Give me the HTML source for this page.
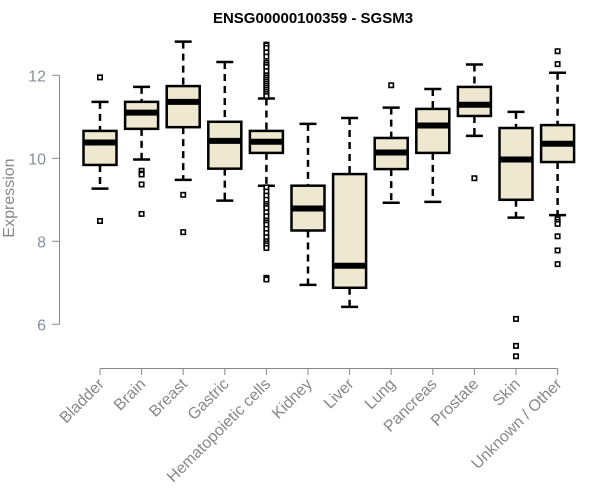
<!DOCTYPE html>
<html><head><meta charset="utf-8"><style>body{margin:0;background:#fff}svg{display:block}text{font-family:"Liberation Sans",Arial,sans-serif}</style></head>
<body>
<svg id="chart" width="600" height="500">
<text x="313" y="23" text-anchor="middle" font-weight="bold" font-size="15">ENSG00000100359 - SGSM3</text>
<text transform="translate(14,198) rotate(-90)" text-anchor="middle" font-size="16" fill="#888">Expression</text>
<g id="yaxis"></g>
<g id="xaxis"></g>
<g id="boxes"></g>
</svg>
<script>
const categories=["Bladder","Brain","Breast","Gastric","Hematopoietic cells","Kidney","Liver","Lung","Pancreas","Prostate","Skin","Unknown / Other"];
const lowerWhisker=[9.27,9.97,9.48,8.98,9.34,6.95,6.42,8.93,8.95,10.54,8.57,8.63];
const q1=[9.84,10.71,10.75,9.75,10.13,8.26,6.88,9.74,10.13,11.02,9.0,9.91];
const medians=[10.38,11.10,11.36,10.42,10.40,8.79,7.41,10.14,10.79,11.29,9.97,10.35];
const q3=[10.66,11.36,11.74,10.88,10.66,9.34,9.62,10.49,11.19,11.72,10.73,10.80];
const upperWhisker=[11.36,11.72,12.81,12.32,11.44,10.83,10.97,11.22,11.67,12.26,11.12,12.06];
const outliers=[[11.95,8.49],[9.70,9.63,9.61,9.37,8.66],[9.12,8.22],[],
[12.74,12.72,12.66,12.55,12.45,12.3,12.25,12.2,12.1,12.0,11.95,11.9,11.85,11.8,11.75,11.7,11.65,11.6,11.55,11.5,9.3,9.2,9.1,9.0,8.9,8.85,8.8,8.7,8.6,8.5,8.45,8.4,8.3,8.2,8.1,8.0,7.95,7.9,7.84,7.12,7.08],
[],[],[11.76],[],[9.52],[6.13,5.48,5.23],[12.58,12.27,8.53,8.47,8.42,8.12,7.78,7.45]];
const yTicks=[6,8,10,12];
const NS="http://www.w3.org/2000/svg";
function y(v){return 158.3-(v-10)*41.5;}
function x(i){return 100+i*41.6;}
function mk(p,tag,a){const e=document.createElementNS(NS,tag);for(const k in a)e.setAttribute(k,a[k]);p.appendChild(e);return e;}
const ya=document.getElementById('yaxis'),xa=document.getElementById('xaxis'),bx=document.getElementById('boxes');
let l=mk(ya,'line',{x1:59.5,x2:59.5,y1:y(12),y2:y(6),stroke:'#888'});


yTicks.forEach(t=>{
 const tk=mk(ya,'line',{x1:52,x2:59.5,y1:y(t),y2:y(t),stroke:'#888'});
 
 
 const tx=mk(ya,'text',{x:46,y:y(t)+6,'text-anchor':'end','font-size':16,fill:'#8a8e99'});tx.textContent=t;
 
 
});
l=mk(xa,'line',{x1:x(0),x2:x(categories.length-1),y1:368.5,y2:368.5,stroke:'#888'});


categories.forEach((c,i)=>{
 const tk=mk(xa,'line',{x1:x(i),x2:x(i),y1:368.5,y2:375,stroke:'#888'});
 
 
 const tx=mk(xa,'text',{transform:`translate(${x(i)+5},${385}) rotate(-45)`,'text-anchor':'end','font-size':16,fill:'#888'});tx.textContent=c;
 
 
 const g=mk(bx,'g',{});
 
 
 const cx=x(i),hw=16.5,cap=8.5;
 mk(g,'line',{x1:cx,x2:cx,y1:y(upperWhisker[i]),y2:y(q3[i]),stroke:'#000','stroke-width':2.5,'stroke-dasharray':'7,5'});
 mk(g,'line',{x1:cx,x2:cx,y1:y(q1[i]),y2:y(lowerWhisker[i]),stroke:'#000','stroke-width':2.5,'stroke-dasharray':'7,5'});
 mk(g,'line',{x1:cx-cap,x2:cx+cap,y1:y(upperWhisker[i]),y2:y(upperWhisker[i]),stroke:'#000','stroke-width':2.5});
 mk(g,'line',{x1:cx-cap,x2:cx+cap,y1:y(lowerWhisker[i]),y2:y(lowerWhisker[i]),stroke:'#000','stroke-width':2.5});
 mk(g,'rect',{x:cx-hw,y:y(q3[i]),width:2*hw,height:y(q1[i])-y(q3[i]),fill:'#ede8cf',stroke:'#000','stroke-width':2.5});
 mk(g,'line',{x1:cx-hw,x2:cx+hw,y1:y(medians[i]),y2:y(medians[i]),stroke:'#000','stroke-width':6});
 outliers[i].forEach(o=>{
  const r=mk(g,'rect',{x:cx-2.2,y:y(o)-2.2,width:4.4,height:4.4,fill:'#fff',stroke:'#000','stroke-width':1.6});
  
  
 });
});
</script>
</body></html>
